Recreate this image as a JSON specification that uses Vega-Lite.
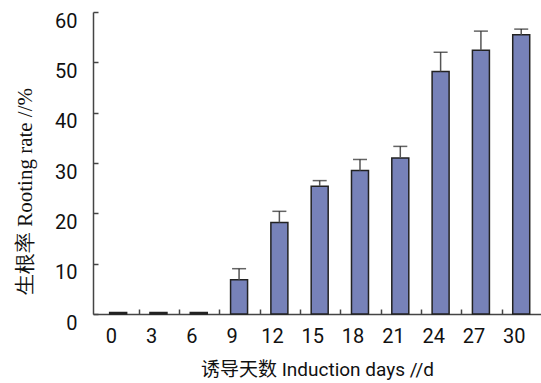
{
  "$schema": "https://vega.github.io/schema/vega-lite/v6.json",
  "width": 448,
  "height": 302,
  "autosize": {"type": "none"},
  "padding": {"left": 93, "top": 12, "right": 0, "bottom": 69},
  "background": "white",
  "config": {"view": {"stroke": null}},
  "data": {
    "values": [
      {"day": 0, "rate": 0.3, "upper": null},
      {"day": 3, "rate": 0.3, "upper": null},
      {"day": 6, "rate": 0.3, "upper": null},
      {"day": 9, "rate": 6.8, "upper": 9.0},
      {"day": 12, "rate": 18.2, "upper": 20.4},
      {"day": 15, "rate": 25.4, "upper": 26.5},
      {"day": 18, "rate": 28.5, "upper": 30.7},
      {"day": 21, "rate": 31.0, "upper": 33.3},
      {"day": 24, "rate": 48.2, "upper": 52.0},
      {"day": 27, "rate": 52.4, "upper": 56.2},
      {"day": 30, "rate": 55.5, "upper": 56.6}
    ]
  },
  "layer": [
    {
      "mark": {"type": "bar", "width": 17, "fill": "#7782B9", "stroke": "#222222", "strokeWidth": 1.5},
      "encoding": {
        "x": {
          "field": "day", "type": "quantitative",
          "scale": {"domain": [-1.5, 31.1], "nice": false, "zero": false},
          "axis": {
            "values": [0, 3, 6, 9, 12, 15, 18, 21, 24, 27, 30],
            "grid": false,
            "domainColor": "#444444", "domainWidth": 1.5,
            "tickColor": "#444444", "tickWidth": 1.5, "tickSize": -5, "tickOffset": 20.6,
            "labelFont": "Roboto",
            "labelFontSize": 20, "labelColor": "#111111", "labelPadding": 17,
            "labelOffset": -28, "labelFlush": false, "labelOverlap": false,
            "title": "诱导天数 Induction days //d",
            "titleFont": "Roboto, Noto Sans CJK SC",
            "titleFontSize": 19, "titleFontWeight": "normal", "titleColor": "#111111",
            "titlePadding": 14
          }
        },
        "y": {
          "field": "rate", "type": "quantitative",
          "scale": {"domain": [0, 60], "nice": false},
          "axis": {
            "values": [0, 10, 20, 30, 40, 50, 60],
            "grid": false,
            "domainColor": "#444444", "domainWidth": 1.5,
            "tickColor": "#444444", "tickWidth": 1.5, "tickSize": -5,
            "labelFont": "Roboto",
            "labelFontSize": 20, "labelColor": "#111111", "labelPadding": 21,
            "labelOffset": 9,
            "labelFlush": false, "labelOverlap": false,
            "title": "生根率 Rooting rate //%",
            "titleFont": "Liberation Serif",
            "titleFontSize": 21, "titleFontWeight": "normal", "titleColor": "#111111",
            "titleX": -68, "titleY": 179, "titleAlign": "center", "titleBaseline": "middle"
          }
        }
      }
    },
    {
      "transform": [{"filter": "datum.upper != null"}],
      "mark": {"type": "rule", "color": "#555555", "strokeWidth": 1.5},
      "encoding": {
        "x": {"field": "day", "type": "quantitative"},
        "y": {"field": "rate", "type": "quantitative"},
        "y2": {"field": "upper"}
      }
    },
    {
      "transform": [{"filter": "datum.upper != null"}],
      "mark": {"type": "tick", "orient": "horizontal", "size": 14, "thickness": 1.5, "color": "#222222"},
      "encoding": {
        "x": {"field": "day", "type": "quantitative"},
        "y": {"field": "upper", "type": "quantitative"}
      }
    }
  ]
}
